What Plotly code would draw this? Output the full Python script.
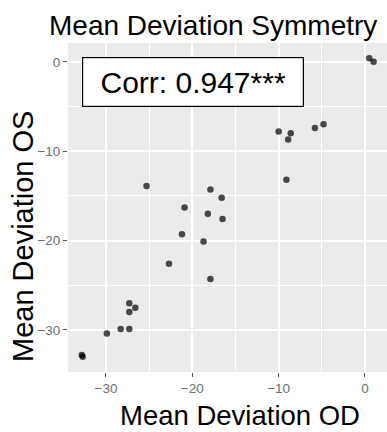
import plotly.graph_objects as go

# Mean deviation (dB) per subject, right eye (OD) vs left eye (OS)
md_od = [0.5, 1.0, -10.0, -8.6, -8.9, -5.8, -4.8, -9.1, -25.3, -17.9, -16.6, -20.9, -18.2,
         -16.5, -21.2, -18.7, -22.7, -17.9, -27.3, -26.6, -27.3, -28.3, -27.3, -29.9, -32.8, -32.7]
md_os = [0.4, 0.0, -7.8, -8.0, -8.7, -7.4, -7.0, -13.2, -13.9, -14.3, -15.2, -16.3, -17.0,
         -17.6, -19.3, -20.1, -22.6, -24.3, -27.0, -27.5, -28.0, -29.9, -29.9, -30.4, -32.8, -33.0]
corr_value = 0.947
corr_stars = "***"

tick_vals = [-30, -20, -10, 0]
tick_text = ["\u221230", "\u221220", "\u221210", "0"]

FONT = "Liberation Sans, Arial, sans-serif"
W, H = 387, 432
L, R, T, B = 68, 0, 43, 60

fig = go.Figure(
    go.Scatter(
        x=md_od, y=md_os, mode="markers",
        marker=dict(size=6.5, color="rgba(0,0,0,0.7)", line=dict(width=0)),
        hoverinfo="x+y",
    )
)

axis_common = dict(
    showgrid=True, gridcolor="white", gridwidth=1.6,
    minor=dict(showgrid=True, gridcolor="white", gridwidth=0.7, dtick=5),
    zeroline=False, showline=False,
    ticks="outside", ticklen=4, tickwidth=1, tickcolor="#555555",
    tickvals=tick_vals, ticktext=tick_text,
    tickfont=dict(family=FONT, size=13.5, color="#6e6e6e"),
)

fig.update_xaxes(range=[-34.4, 2.55], **axis_common)
fig.update_yaxes(range=[-34.7, 2.1], **axis_common)

pw = W - L - R
ph = H - T - B


def px(xp):
    return (xp - L) / pw


def py(yp):
    return (H - B - yp) / ph


annotations = [
    dict(text="Mean Deviation Symmetry", xref="paper", yref="paper",
         x=px(213), y=py(26), xanchor="center", yanchor="middle", showarrow=False,
         font=dict(family=FONT, size=28, color="black")),
    dict(text="Mean Deviation OD", xref="paper", yref="paper",
         x=px(240), y=py(415), xanchor="center", yanchor="middle", showarrow=False,
         font=dict(family=FONT, size=27.5, color="black")),
    dict(text="Mean Deviation OS", xref="paper", yref="paper", textangle=-90,
         x=px(23), y=py(237), xanchor="center", yanchor="middle", showarrow=False,
         font=dict(family=FONT, size=29, color="black")),
    dict(text=f"Corr: {corr_value:.3f}{corr_stars}", xref="paper", yref="paper",
         x=px(192.5), y=py(81.7), xanchor="center", yanchor="middle", showarrow=False,
         width=216, height=44, borderpad=2, borderwidth=1.2,
         bordercolor="black", bgcolor="white",
         font=dict(family=FONT, size=30, color="black")),
]

fig.update_layout(
    width=W, height=H,
    margin=dict(l=L, r=R, t=T, b=B),
    paper_bgcolor="white", plot_bgcolor="#EBEBEB",
    showlegend=False,
    annotations=annotations,
)

fig.write_html("out.html")
